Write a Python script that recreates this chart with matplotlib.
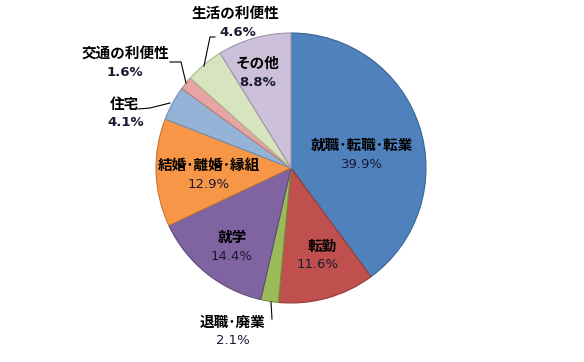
import matplotlib
matplotlib.use('Agg')
import matplotlib.pyplot as plt

plt.rcParams['font.family'] = ['Noto Sans CJK JP', 'DejaVu Sans']

categories = ['就職･転職･転業', '転勤', '退職･廃業', '就学', '結婚･離婚･縁組',
              '住宅', '交通の利便性', '生活の利便性', 'その他']
shares = [39.9, 11.6, 2.1, 14.4, 12.9, 4.1, 1.6, 4.6, 8.8]
colors = ['#4f81bd', '#c0504d', '#9bbb59', '#8064a2', '#f79646',
          '#95b3d7', '#e6a5a4', '#d7e4bd', '#ccc0da']
edges = ['#3a6494', '#963c3a', '#76913f', '#5f4a7b', '#c5763a',
         '#6f8fb5', '#b57f7e', '#a9b98e', '#a196ac']

# label centre in image pixels (name line, percent line below it)
label_px = [(362, 145), (322, 246), (233, 322), (232, 237), (209, 165),
            (124, 104), (125, 54), (235, 13), (258, 63)]
pct_bold = [False, False, False, False, False, True, True, True, True]
pct_dx = [0, -4, 0, 0, 0, 2, 0, 3, 0]

# leader lines (pixels)
leaders = {
    2: [(272, 319), (271, 302)],
    5: [(138, 109), (150, 108), (170, 103)],
    6: [(170, 62), (181, 62), (186, 83)],
    7: [(215, 37), (210, 37), (204, 66)],
}

W, H = 584, 362
cx, cy, r = 291, 168, 135

fig = plt.figure(figsize=(W / 100, H / 100), dpi=100)
ax = fig.add_axes([(cx - r) / W, 1 - (cy + r) / H, 2 * r / W, 2 * r / H])

wedges, _ = ax.pie(shares, colors=colors, startangle=90, counterclock=False,
                   radius=1, wedgeprops=dict(linewidth=0.8))
for w, ec in zip(wedges, edges):
    w.set_edgecolor(ec)

ax.set_xlim(-1, 1)
ax.set_ylim(-1, 1)
ax.set_aspect('equal')
ax.axis('off')


def to_data(px, py):
    return (px - cx) / r, (cy - py) / r


for i, name in enumerate(categories):
    px, py = label_px[i]
    x, y = to_data(px, py)
    ax.text(x, y, name, ha='center', va='center', fontsize=10.5,
            fontweight='bold', color='#000000', clip_on=False)
    x2, y2 = to_data(px + pct_dx[i], py + 19)
    ax.text(x2, y2, f'{shares[i]}%', ha='center', va='center', fontsize=9.5,
            fontweight='bold' if pct_bold[i] else 'normal',
            color='#1a1a33', family=['DejaVu Sans'], clip_on=False)

for pts in leaders.values():
    xs, ys = zip(*[to_data(p, q) for p, q in pts])
    ax.plot(xs, ys, color='#000000', linewidth=0.8, clip_on=False)

fig.savefig('out.png', dpi=100)
